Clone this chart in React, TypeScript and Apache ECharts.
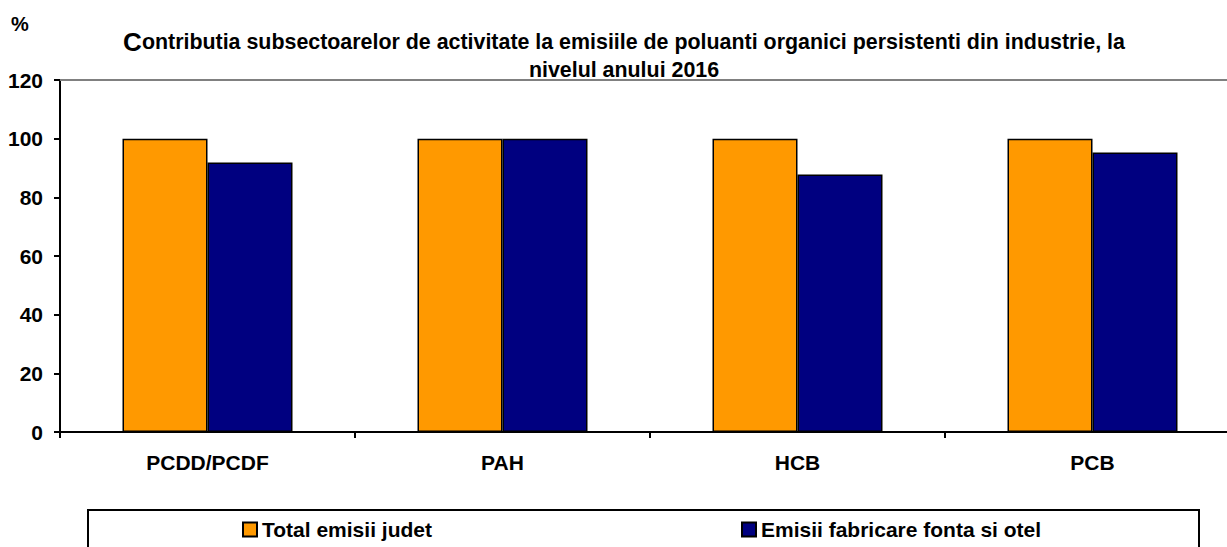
import React, { useEffect, useRef } from "react";
import * as echarts from "echarts";

const categories = ["PCDD/PCDF", "PAH", "HCB", "PCB"];
const seriesNames = ["Total emisii judet", "Emisii fabricare fonta si otel"];
const totalJudet = [100, 100, 100, 100];
const fontaOtel = [91.9, 100, 87.8, 95.3];
const yTicks = { min: 0, max: 120, interval: 20 };
const titleLine1Rest = "ontributia subsectoarelor de activitate la emisiile de poluanti organici persistenti din industrie, la";
const titleLine2 = "nivelul anului 2016";

const FONT = "Arial, 'Liberation Sans', sans-serif";

export default function App() {
  const ref = useRef<HTMLDivElement>(null);
  useEffect(() => {
    if (!ref.current) return;
    const chart = echarts.init(ref.current, null, { renderer: "svg" });
    const labelStyle = { fontSize: 21, fontWeight: "bold" as const, color: "#000", fontFamily: FONT };
    chart.setOption({
      animation: false,
      backgroundColor: "#fff",
      textStyle: { fontFamily: FONT },
      title: {
        text: "{big|C}" + titleLine1Rest + "\n" + titleLine2,
        left: 624,
        textAlign: "center",
        top: 28,
        padding: 0,
        textStyle: {
          fontSize: 21.4,
          fontWeight: "bold",
          color: "#000",
          fontFamily: FONT,
          lineHeight: 28,
          rich: {
            big: { fontSize: 26, fontWeight: "bold", color: "#000", fontFamily: FONT, lineHeight: 28 },
          },
        },
      },
      graphic: [
        {
          type: "text",
          left: 11,
          top: 14,
          style: { text: "%", fontSize: 20, fontWeight: "bold", fill: "#000", fontFamily: FONT },
        },
        {
          type: "rect",
          shape: { x: 88, y: 510, width: 1111, height: 60 },
          style: { fill: "none", stroke: "#000", lineWidth: 2 },
          silent: true,
        },
      ],
      legend: [
        {
          data: [seriesNames[0]],
          left: 242,
          top: 519,
          padding: 0,
          itemWidth: 14,
          itemHeight: 14,
          icon: "rect",
          textStyle: labelStyle,
        },
        {
          data: [seriesNames[1]],
          left: 741,
          top: 519,
          padding: 0,
          itemWidth: 14,
          itemHeight: 14,
          icon: "rect",
          textStyle: labelStyle,
        },
      ],
      grid: { left: 60, right: 0, top: 80, bottom: 115, outerBoundsMode: "none" },
      xAxis: [
        {
          type: "category",
          data: categories,
          axisLine: { lineStyle: { color: "#000", width: 2 } },
          axisTick: { show: true, length: 6, lineStyle: { color: "#000", width: 2 } },
          axisLabel: { ...labelStyle, margin: 20 },
          splitLine: { show: false },
        },
        {
          type: "category",
          data: categories,
          position: "top",
          axisLine: { show: true, lineStyle: { color: "#808080", width: 2 } },
          axisTick: { show: false },
          axisLabel: { show: false },
        },
      ],
      yAxis: {
        type: "value",
        min: yTicks.min,
        max: yTicks.max,
        interval: yTicks.interval,
        axisLine: { show: true, lineStyle: { color: "#000", width: 2 } },
        axisTick: { show: true, length: 6, lineStyle: { color: "#000", width: 2 } },
        axisLabel: { ...labelStyle, margin: 17 },
        splitLine: { show: false },
      },
      series: [
        {
          name: seriesNames[0],
          type: "bar",
          data: totalJudet,
          barWidth: 85,
          barGap: "0%",
          itemStyle: { color: "#FF9900", borderColor: "#000", borderWidth: 1.5 },
        },
        {
          name: seriesNames[1],
          type: "bar",
          data: fontaOtel,
          barWidth: 85,
          barGap: "0%",
          itemStyle: { color: "#000080", borderColor: "#000", borderWidth: 1.5 },
        },
      ],
    });
    return () => chart.dispose();
  }, []);
  return (
    <div style={{ position: "fixed", left: 0, top: 0, width: 1227, height: 547, overflow: "hidden", background: "#fff" }}>
      <div ref={ref} style={{ width: 1240, height: 547 }} />
    </div>
  );
}
